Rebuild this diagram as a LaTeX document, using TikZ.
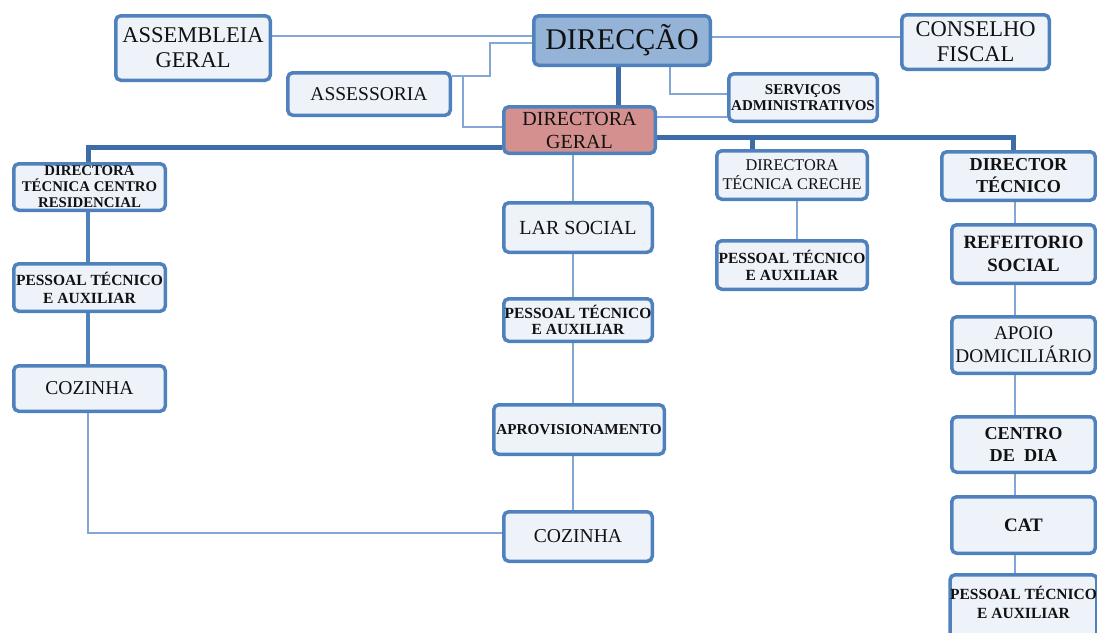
\documentclass[tikz,border=0pt]{standalone}
\usepackage{fontspec}
\setmainfont{Liberation Serif}
\usetikzlibrary{backgrounds}
\definecolor{bord}{HTML}{4F81BD}
\definecolor{boxfill}{HTML}{EEF3FA}
\definecolor{dirfill}{HTML}{95B3D7}
\definecolor{dgfill}{HTML}{D3908F}
\definecolor{thinc}{HTML}{82A6D8}
\definecolor{thickc}{HTML}{3D6CA8}
\definecolor{txt}{HTML}{111111}
\newcommand{\fs}[2]{\fontsize{#1}{#2}\selectfont}
\begin{document}
\begin{tikzpicture}[x=1pt,y=-1pt,
  box/.style={draw=bord, line width=3.5pt, rounded corners=5pt, fill=boxfill,
              align=center, inner sep=0pt, text=txt},
  sz/.style 2 args={minimum width=#1pt, minimum height=#2pt},
  thinln/.style={draw=thinc, line width=2pt},
  thickln/.style={draw=thickc, line width=5pt},
  midln/.style={draw=bord, line width=4pt}]
\useasboundingbox (0,0) rectangle (1097,632);

% ---- nodes ----
\node[box, sz={154.5}{64.5}, font=\fs{22.5}{25}] (ag) at (193,48) {ASSEMBLEIA\\GERAL};
\node[box, sz={176.5}{49.5}, fill=dirfill, font=\fs{30}{32}] (dir) at (622,40.5) {DIRECÇÃO};
\node[box, sz={147.5}{54.5}, font=\fs{22.5}{25}] (cf) at (975.5,42) {CONSELHO\\FISCAL};
\node[box, sz={162.5}{42.5}, font=\fs{19.5}{21}] (ass) at (369,94) {ASSESSORIA};
\node[box, sz={148.5}{47.5}, font=\fs{15}{15.5}\bfseries] (sa) at (803,97.5) {SERVIÇOS\\ADMINISTRATIVOS};
\node[box, sz={151.5}{46.5}, fill=dgfill, font=\fs{20}{23}] (dg) at (579.5,130) {DIRECTORA\\GERAL};

\node[box, sz={151.5}{46.5}, font=\fs{14.8}{16}\bfseries] (dtcr) at (89.5,187) {DIRECTORA\\TÉCNICA CENTRO\\RESIDENCIAL};
\node[box, sz={151.5}{47.5}, font=\fs{15.5}{18}\bfseries] (pl) at (89.5,287.5) {PESSOAL TÉCNICO\\E AUXILIAR};
\node[box, sz={151.5}{45.5}, font=\fs{19.6}{21}] (cl) at (89.5,388.5) {COZINHA};

\node[box, sz={148.5}{49.5}, font=\fs{20}{22}] (ls) at (578,227.5) {LAR SOCIAL};
\node[box, sz={148.5}{42.5}, font=\fs{15.5}{16.5}\bfseries] (pm) at (578,320) {PESSOAL TÉCNICO\\E AUXILIAR};
\node[box, sz={170.5}{49.5}, font=\fs{15.2}{17}\bfseries] (apr) at (579,429.5) {APROVISIONAMENTO};
\node[box, sz={148.5}{49.5}, font=\fs{19.6}{21}] (cm) at (578,536.5) {COZINHA};

\node[box, sz={150.5}{48.5}, font=\fs{16.3}{19}] (dtc) at (792,175) {DIRECTORA\\TÉCNICA CRECHE};
\node[box, sz={150.5}{48.5}, font=\fs{15.5}{17}\bfseries] (pc) at (792,265) {PESSOAL TÉCNICO\\E AUXILIAR};

\node[box, sz={153.5}{48.5}, font=\fs{18.2}{22}\bfseries] (dt) at (1018.5,176) {DIRECTOR\\TÉCNICO};
\node[box, sz={143.5}{58.5}, font=\fs{18.8}{23}\bfseries] (rs) at (1023.5,254) {REFEITORIO\\SOCIAL};
\node[box, sz={143.5}{56.5}, font=\fs{19.3}{23}] (ad) at (1023.5,345) {APOIO\\DOMICILIÁRIO};
\node[box, sz={143.5}{55.5}, font=\fs{18.2}{22}\bfseries] (cd) at (1023.5,444.5) {CENTRO\\DE~~DIA};
\node[box, sz={143.5}{56.5}, font=\fs{19}{21}\bfseries] (cat) at (1023.5,525) {CAT};
\node[box, sz={143.5}{63.5}, font=\fs{15.5}{19}\bfseries, text depth=9pt] (pr) at (1023.5,606.5) {PESSOAL TÉCNICO\\E AUXILIAR};

% ---- helper coordinates ----
\coordinate (y36) at (0,36);
\coordinate (y37) at (0,37);
\coordinate (y43) at (0,43);
\coordinate (y76) at (0,76);
\coordinate (y94) at (0,94);
\coordinate (y117) at (0,117);
\coordinate (y127) at (0,127);
\coordinate (y137) at (0,137);
\coordinate (y147) at (0,147);
\coordinate (y533) at (0,533);
\coordinate (x88) at (88,0);
\coordinate (x463) at (463,0);
\coordinate (x490) at (490,0);
\coordinate (x573) at (573,0);
\coordinate (x618) at (618,0);
\coordinate (x670) at (670,0);
\coordinate (x752) at (752,0);
\coordinate (x797) at (797,0);
\coordinate (x1013) at (1013,0);
\coordinate (x1015) at (1015,0);

% ---- connectors ----
\begin{scope}[on background layer]
\draw[thinln] (ag.east |- y36) -- (dir.west |- y36);
\draw[thinln] (dir.east |- y37) -- (cf.west |- y37);
\draw[thinln] (ass.east |- y76) -- (x490 |- y76) -- (x490 |- y43) -- (dir.west |- y43);
\draw[thinln] (x463 |- y76) |- (dg.west |- y127);
\draw[thickln] (dir.south -| x618) -- (dg.north -| x618);
\draw[thinln] (dir.south -| x670) |- (sa.west |- y94);
\draw[thinln] (dg.east |- y117) -- (sa.west |- y117);
\draw[thickln] (dg.east |- y137) -| (dt.north -| x1013);
\draw[thickln] (x752 |- y137) -- (dtc.north -| x752);
\draw[thickln] (dg.west |- y147) -| (dtcr.north -| x88);
\draw[midln] (dtcr.south -| x88) -- (pl.north -| x88);
\draw[midln] (pl.south -| x88) -- (cl.north -| x88);
\draw[thinln] (cl.south -| x88) |- (cm.west |- y533);
\draw[thinln] (dg.south -| x573) -- (ls.north -| x573);
\draw[thinln] (ls.south -| x573) -- (pm.north -| x573);
\draw[thinln] (pm.south -| x573) -- (apr.north -| x573);
\draw[thinln] (apr.south -| x573) -- (cm.north -| x573);
\draw[thinln] (dtc.south -| x797) -- (pc.north -| x797);
\draw[thinln] (dt.south -| x1015) -- (rs.north -| x1015);
\draw[thinln] (rs.south -| x1015) -- (ad.north -| x1015);
\draw[thinln] (ad.south -| x1015) -- (cd.north -| x1015);
\draw[thinln] (cd.south -| x1015) -- (cat.north -| x1015);
\draw[thinln] (cat.south -| x1015) -- (pr.north -| x1015);
\end{scope}
\end{tikzpicture}
\end{document}
